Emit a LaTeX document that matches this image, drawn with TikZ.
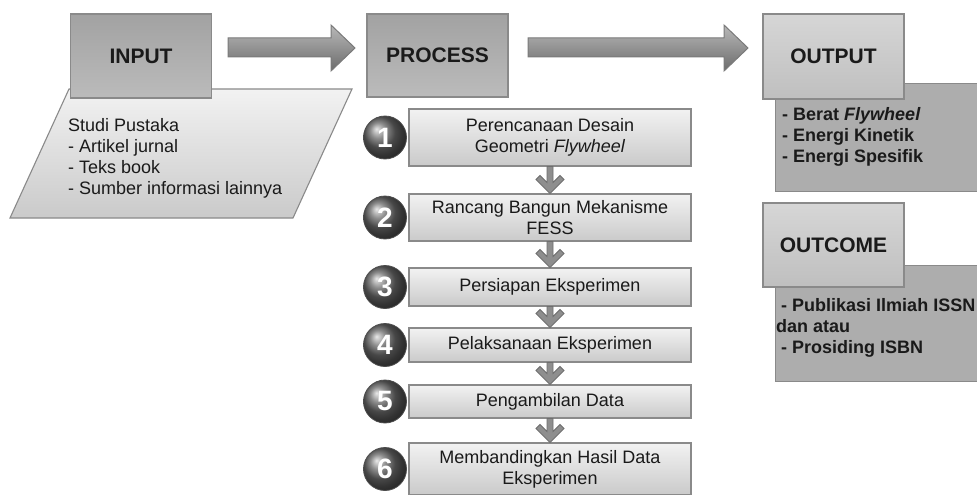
\documentclass[tikz,border=0pt]{standalone}
\usepackage{fontspec}
\setmainfont{Liberation Sans}
\usetikzlibrary{calc}
\definecolor{edgegray}{HTML}{8A8A8A}
\definecolor{midtop}{HTML}{A2A2A2}
\definecolor{midbot}{HTML}{BBBBBB}
\definecolor{lighttop}{HTML}{D6D6D6}
\definecolor{lightbot}{HTML}{BFBFBF}
\definecolor{paletop}{HTML}{F2F2F2}
\definecolor{palebot}{HTML}{CACACA}
\definecolor{bodygray}{HTML}{ADADAD}
\definecolor{arrtop}{HTML}{B8B8B8}
\definecolor{arrbot}{HTML}{6C6C6C}
\definecolor{arredge}{HTML}{7A7A7A}
\definecolor{chevfill}{HTML}{8E8E8E}
\definecolor{chevedge}{HTML}{6E6E6E}
\definecolor{txt}{HTML}{1A1A1A}
\newcommand{\chevdown}[2]{%
  \path (#1.south) coordinate (ct) (#2.north) coordinate (cb);
  \path[chevron] ($(ct)+(-3,0)$) -- ($(ct)+(3,0)$) -- ($(cb)+(3,11)$) -- ($(cb)+(10,18)$) -- ($(cb)+(14,14)$) -- (cb) -- ($(cb)+(-14,14)$) -- ($(cb)+(-10,18)$) -- ($(cb)+(-3,11)$) -- cycle;}
\begin{document}
\begin{tikzpicture}[x=1pt,y=1pt,
  headbox/.style={draw=edgegray, line width=1.1pt, minimum width=141pt, inner sep=0pt, text=txt,
    font=\fontsize{21}{21}\selectfont\bfseries},
  darkbox/.style={headbox, top color=midtop, bottom color=midbot},
  lightbox/.style={headbox, top color=lighttop, bottom color=lightbot},
  bodybox/.style={draw=edgegray, line width=1.1pt, fill=bodygray, inner sep=0pt, anchor=north west, minimum width=212pt},
  bodytext/.style={inner sep=0pt, anchor=north west, align=left, text=txt, font=\fontsize{18}{21}\selectfont},
  boldtext/.style={bodytext, font=\fontsize{18}{21}\selectfont\bfseries},
  stepbox/.style={draw=edgegray, line width=1.1pt, top color=paletop, bottom color=palebot,
    minimum width=282pt, inner sep=0pt, align=center, text=txt, font=\fontsize{18}{21}\selectfont},
  numball/.style={circle, minimum size=43pt, inner sep=0pt, shading=ball, ball color=black!60,
    draw=black!70, line width=0.8pt, text=white, font=\fontsize{28}{28}\selectfont\bfseries},
  bigarrow/.style={draw=arredge, line width=1pt, top color=arrtop, bottom color=arrbot},
  chevron/.style={draw=chevedge, line width=0.8pt, fill=chevfill}
]
\useasboundingbox (0,0) rectangle (977,-495);
\fill[white] (0,0) rectangle (977,-495);

% INPUT
\path[draw=edgegray, line width=1.1pt, top color=paletop, bottom color=palebot]
  (69,-89) -- (352,-89) -- (293,-218) -- (10,-218) -- cycle;
\node[darkbox, minimum height=84pt] (in) at (141,-56) {INPUT};
\node[bodytext] (inbody) at (68,-118) {Studi Pustaka\\- Artikel jurnal\\- Teks book\\- Sumber informasi lainnya};

% PROCESS
\node[darkbox, minimum height=83pt] (proc) at (437.5,-55.5) {PROCESS};

% OUTPUT
\node[bodybox, minimum height=108pt] (outbody) at (775,-83) {};
\node[lightbox, minimum height=85pt] (out) at (833.5,-56.5) {OUTPUT};
\node[boldtext] (outtext) at (782,-107) {- Berat \textit{Flywheel}\\- Energi Kinetik\\- Energi Spesifik};

% OUTCOME
\node[bodybox, minimum height=116pt] (ocbody) at (775,-265) {};
\node[lightbox, minimum height=84pt] (oc) at (833.5,-245) {OUTCOME};
\node[boldtext] (octext) at (776,-298) {\ - Publikasi Ilmiah ISSN\\dan atau\\\ - Prosiding ISBN};

% big arrows
\path[bigarrow] (228,-38) -- (331,-38) -- (331,-25) -- (355,-48) -- (331,-71) -- (331,-57) -- (228,-57) -- cycle;
\path[bigarrow] (528,-38) -- (724,-38) -- (724,-25) -- (748,-48) -- (724,-71) -- (724,-57) -- (528,-57) -- cycle;

% steps
\node[stepbox, minimum height=57pt] (s1) at (550,-137.5) {Perencanaan Desain\\Geometri \textit{Flywheel}};
\node[stepbox, minimum height=47pt] (s2) at (550,-217.5) {Rancang Bangun Mekanisme\\FESS};
\node[stepbox, minimum height=38pt] (s3) at (550,-287) {Persiapan Eksperimen};
\node[stepbox, minimum height=34pt] (s4) at (550,-345) {Pelaksanaan Eksperimen};
\node[stepbox, minimum height=33pt] (s5) at (550,-401.5) {Pengambilan Data};
\node[stepbox, minimum height=52pt] (s6) at (550,-469) {Membandingkan Hasil Data\\Eksperimen};

\node[numball] (n1) at (385,-137.5) {1};
\node[numball] (n2) at (385,-217.5) {2};
\node[numball] (n3) at (385,-287) {3};
\node[numball] (n4) at (385,-345) {4};
\node[numball] (n5) at (385,-401.5) {5};
\node[numball] (n6) at (385,-469) {6};

\chevdown{s1}{s2}
\chevdown{s2}{s3}
\chevdown{s3}{s4}
\chevdown{s4}{s5}
\chevdown{s5}{s6}
\end{tikzpicture}
\end{document}
